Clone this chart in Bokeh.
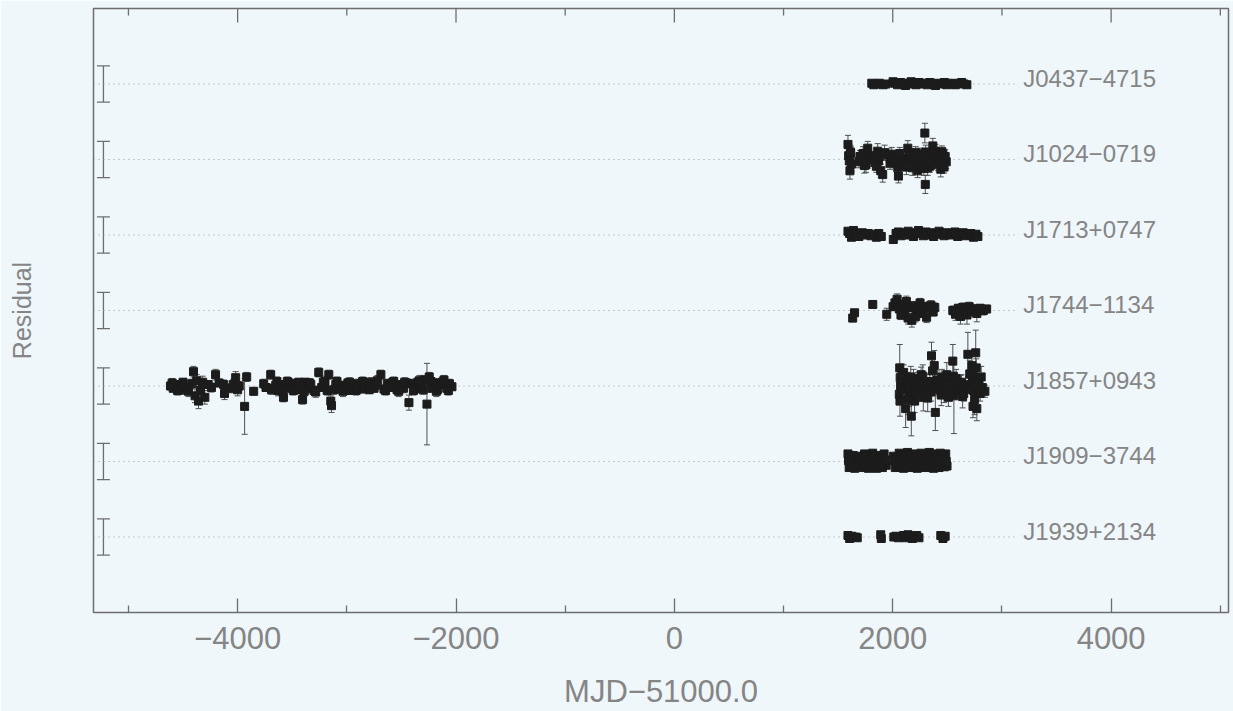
from bokeh.plotting import figure
from bokeh.models import ColumnDataSource, Range1d, FixedTicker, Whisker, TeeHead, LinearAxis
from bokeh.embed import file_html
from bokeh.resources import INLINE
from bokeh.core.properties import value

# ---------------- data ----------------
pulsars = ["J0437−4715", "J1024−0719", "J1713+0747", "J1744−1134",
           "J1857+0943", "J1909−3744", "J1939+2134"]
rows = [7, 6, 5, 4, 3, 2, 1]
scale_half = [0.24, 0.24, 0.24, 0.24, 0.24, 0.24, 0.24]

x_ticks = [-4000, -2000, 0, 2000, 4000]
x_minor = [-5000, -3000, -1000, 1000, 3000, 5000]
x_tick_labels = ["−4000", "−2000", "0", "2000", "4000"]

j0437_mjd = [1808, 1826, 1851, 1877, 1912, 1938, 2003, 2019, 2044, 2071, 2093, 2117,
             2142, 2168, 2187, 2213, 2240, 2258, 2287, 2316, 2339, 2368, 2391, 2414,
             2446, 2472, 2495, 2521, 2553, 2574, 2601, 2632, 2654, 2679]
j0437_res = [0.01, -0.01, 0.00, 0.01, -0.01, 0.00, 0.03, 0.01, -0.01, 0.02, 0.00, -0.02,
             0.01, 0.03, 0.00, -0.01, 0.02, 0.00, 0.01, -0.01, 0.02, 0.00, -0.02, 0.01,
             0.00, 0.02, -0.01, 0.01, 0.00, -0.01, 0.01, 0.02, 0.00, -0.01]
j0437_err = 0.012

j1024_mjd = [1590, 1596, 1602, 1608, 1615, 1624, 1700, 1728, 1740, 1771, 1800, 1838,
             1862, 1870, 1890, 1908, 1960, 1991, 2010, 2030, 2046, 2052, 2092, 2110,
             2138, 2160, 2174, 2180, 2200, 2220, 2228, 2248, 2270, 2294, 2298, 2302,
             2320, 2339, 2345, 2367, 2390, 2404, 2420, 2440, 2459, 2470, 2490,
             1612, 1690, 1715, 1755, 1785, 1820, 1850, 1880, 1925, 1975, 2000, 2065,
             2080, 2125, 2150, 2190, 2210, 2240, 2260, 2285, 2330, 2356, 2380, 2415,
             2430, 2450, 2480]
j1024_res = [0.20, 0.05, -0.02, -0.15, 0.08, -0.06, 0.04, 0.08, -0.08, 0.15, 0.02, -0.04,
             0.11, -0.02, -0.15, -0.20, 0.06, 0.07, -0.03, 0.03, -0.11, -0.22, 0.02, -0.06,
             0.15, 0.04, 0.01, -0.11, 0.06, -0.02, -0.15, 0.07, -0.05, 0.35, -0.33, 0.10,
             -0.11, -0.09, 0.00, 0.18, 0.11, -0.02, 0.05, -0.13, 0.07, -0.10, -0.03,
             0.10, -0.03, 0.02, -0.07, 0.05, 0.00, -0.09, 0.04, 0.09, -0.05, 0.01, 0.08,
             -0.04, -0.10, 0.06, -0.01, 0.09, -0.08, 0.03, -0.12, 0.05, -0.04, 0.08, -0.07,
             0.02, 0.10, 0.04]
j1024_err = [0.12, 0.09, 0.08, 0.11, 0.09, 0.10, 0.08, 0.09, 0.10, 0.09, 0.08, 0.09,
             0.10, 0.08, 0.09, 0.10, 0.08, 0.09, 0.08, 0.09, 0.10, 0.09, 0.08, 0.09,
             0.10, 0.08, 0.09, 0.10, 0.08, 0.09, 0.09, 0.08, 0.09, 0.13, 0.12, 0.09,
             0.10, 0.08, 0.09, 0.10, 0.09, 0.08, 0.09, 0.10, 0.09, 0.08, 0.09,
             0.09, 0.08, 0.09, 0.10, 0.08, 0.09, 0.08, 0.09, 0.10, 0.08, 0.09, 0.08,
             0.09, 0.10, 0.08, 0.09, 0.08, 0.09, 0.10, 0.09, 0.08, 0.09, 0.10, 0.08,
             0.09, 0.08, 0.09]

j1713_mjd = [1590, 1605, 1622, 1640, 1662, 1690, 1720, 1748, 1775, 1800, 1828, 1850,
             1872, 1895, 2005, 2030, 2052, 2075, 2098, 2120, 2141, 2165, 2190, 2212,
             2236, 2258, 2280, 2305, 2330, 2352, 2375, 2400, 2424, 2448, 2470, 2495,
             2520, 2546, 2570, 2595, 2620, 2645, 2668, 2690, 2715, 2740, 2762, 2780]
j1713_res = [0.05, 0.02, -0.03, 0.06, 0.01, -0.02, 0.03, 0.00, 0.02, -0.01, 0.01, -0.03,
             0.02, -0.02, -0.06, 0.02, 0.04, -0.01, 0.03, 0.00, 0.05, 0.01, -0.02, 0.03,
             0.06, 0.02, -0.01, 0.04, 0.00, 0.03, -0.02, 0.02, 0.05, 0.01, -0.01, 0.03,
             0.00, 0.02, 0.04, -0.02, 0.01, 0.03, -0.01, 0.00, 0.02, -0.03, 0.01, -0.02]
j1713_err = 0.03

j1744_mjd = [1633, 1650, 1817, 1945, 2003, 2020, 2040, 2060, 2075, 2090, 2110, 2125,
             2140, 2160, 2175, 2195, 2210, 2230, 2250, 2270, 2290, 2310, 2330, 2350,
             2370, 2385, 2550, 2575, 2600, 2620, 2640, 2660, 2680, 2700, 2720, 2745,
             2770, 2800, 2830, 2860]
j1744_res = [-0.10, -0.03, 0.08, -0.05, 0.05, 0.10, 0.15, 0.02, -0.06, 0.08, -0.02, 0.12,
             -0.10, 0.04, -0.13, 0.06, -0.08, 0.02, 0.10, -0.04, 0.05, -0.09, 0.03, 0.07,
             -0.02, 0.04, 0.00, -0.05, 0.03, -0.08, 0.04, 0.01, -0.06, 0.05, -0.02, 0.02,
             -0.04, 0.03, 0.00, 0.02]
j1744_err = [0.05, 0.04, 0.05, 0.08, 0.05, 0.06, 0.07, 0.05, 0.06, 0.05, 0.06, 0.07,
             0.08, 0.05, 0.09, 0.06, 0.07, 0.05, 0.06, 0.05, 0.06, 0.07, 0.05, 0.06,
             0.05, 0.06, 0.06, 0.08, 0.05, 0.10, 0.06, 0.05, 0.12, 0.06, 0.05, 0.06,
             0.11, 0.05, 0.06, 0.05]

j1857_mjd = [-4615, -4590, -4565, -4540, -4515, -4490, -4465, -4420, -4404, -4390, -4375, -4358,
             -4340, -4320, -4300, -4270, -4240, -4202, -4170, -4128, -4120, -4060, -4040, -4018,
             -4000, -3985, -3936, -3917, -3853, -3761, -3740, -3697, -3670, -3651, -3630, -3600,
             -3580, -3560, -3530, -3505, -3480, -3455, -3430, -3405, -3380, -3355, -3330, -3300,
             -3257, -3230, -3200, -3165, -3147, -3140, -3120, -3101, -3075, -3050, -3020, -2990,
             -2960, -2930, -2900, -2870, -2840, -2810, -2780, -2750, -2734, -2688, -2660, -2630,
             -2600, -2570, -2540, -2510, -2480, -2455, -2431, -2405, -2380, -2350, -2320, -2290,
             -2266, -2245, -2220, -2195, -2170, -2140, -2110, -2085, -2060, -2037,
             -4600, -4550, -4500, -4450, -3690, -3640, -3590, -3545, -3490, -3440, -3390, -3340,
             -3285, -3215, -3180, -3090, -3035, -2975, -2915, -2855, -2795, -2720, -2645, -2585,
             -2525, -2470, -2390, -2335, -2300, -2230, -2180, -2125, -2070,
             2060, 2064, 2066, 2068, 2072, 2100, 2110, 2118, 2125, 2135, 2145, 2150,
             2170, 2180, 2190, 2200, 2210, 2220, 2230, 2240, 2250, 2260, 2270, 2280,
             2290, 2300, 2310, 2330, 2340, 2350, 2355, 2380, 2390, 2400, 2410, 2420,
             2430, 2440, 2450, 2460, 2470, 2480, 2490, 2500, 2510, 2520, 2540, 2550,
             2555, 2560, 2590, 2600, 2620, 2630, 2650, 2660, 2688, 2700, 2710, 2725,
             2730, 2735, 2740, 2760, 2765, 2770, 2775, 2790, 2800, 2820, 2844,
             2085, 2140, 2165, 2215, 2275, 2320, 2365, 2445, 2495, 2580, 2640, 2705, 2750, 2810]
j1857_res = [0.00, -0.03, 0.02, -0.02, 0.01, -0.05, -0.02, 0.03, 0.19, -0.13, 0.07, -0.20,
             -0.06, 0.05, -0.15, 0.02, -0.02, 0.15, 0.04, 0.02, -0.10, -0.03, 0.02, 0.11,
             -0.05, 0.00, -0.27, 0.12, -0.07, 0.03, -0.02, 0.15, -0.03, 0.01, -0.06, 0.02,
             -0.15, -0.03, 0.04, -0.02, 0.03, -0.05, 0.00, -0.18, 0.05, -0.03, 0.02, -0.06,
             0.18, -0.02, 0.06, 0.15, -0.20, -0.26, -0.05, 0.02, -0.04, 0.01, -0.03, 0.04,
             -0.06, 0.00, 0.03, -0.04, 0.02, -0.02, 0.05, -0.03, 0.01, 0.15, -0.04, 0.03,
             -0.02, 0.06, -0.05, 0.02, -0.03, 0.04, -0.22, 0.03, -0.04, 0.05, -0.02, 0.08,
             -0.24, 0.12, -0.03, 0.04, -0.05, 0.02, 0.08, -0.03, 0.03, -0.01,
             0.04, -0.06, 0.05, -0.07, -0.05, 0.06, -0.07, 0.06, -0.06, 0.05, -0.07, 0.04,
             -0.08, 0.05, -0.06, 0.06, -0.07, 0.05, -0.06, 0.06, -0.05, 0.07, -0.06, 0.04,
             -0.07, 0.05, -0.06, 0.07, -0.05, 0.06, -0.07, 0.05, -0.06,
             -0.11, 0.24, -0.20, 0.11, 0.00, 0.18, -0.05, -0.30, 0.03, 0.08, -0.02, -0.12,
             -0.40, 0.06, 0.10, -0.20, -0.04, 0.02, 0.08, -0.08, -0.01, 0.15, 0.04, -0.15,
             -0.06, 0.05, 0.01, -0.02, 0.06, -0.08, 0.40, 0.27, -0.35, 0.02, 0.08, -0.03,
             -0.05, 0.05, 0.12, -0.02, -0.10, 0.07, 0.03, 0.00, -0.15, -0.06, 0.04, 0.33,
             0.13, -0.13, -0.05, -0.03, 0.02, 0.05, -0.10, -0.04, 0.42, 0.00, 0.02, 0.27,
             0.13, -0.27, -0.06, 0.44, 0.24, -0.30, 0.09, 0.05, -0.10, -0.02, -0.07,
             0.14, -0.18, 0.12, -0.10, 0.13, -0.16, 0.20, -0.12, 0.15, 0.10, -0.14, 0.16, -0.18, 0.12]
j1857_err = [0.05, 0.05, 0.05, 0.06, 0.05, 0.06, 0.05, 0.06, 0.07, 0.09, 0.08, 0.10,
             0.07, 0.08, 0.09, 0.05, 0.06, 0.07, 0.05, 0.06, 0.08, 0.06, 0.07, 0.08,
             0.08, 0.06, 0.37, 0.06, 0.05, 0.06, 0.05, 0.06, 0.05, 0.06, 0.07, 0.05,
             0.06, 0.05, 0.05, 0.05, 0.06, 0.05, 0.05, 0.06, 0.05, 0.06, 0.05, 0.06,
             0.06, 0.05, 0.07, 0.06, 0.07, 0.09, 0.06, 0.05, 0.05, 0.05, 0.06, 0.05,
             0.05, 0.05, 0.06, 0.05, 0.05, 0.05, 0.06, 0.05, 0.05, 0.06, 0.05, 0.06,
             0.05, 0.06, 0.05, 0.05, 0.06, 0.05, 0.10, 0.06, 0.05, 0.06, 0.05, 0.06,
             0.54, 0.06, 0.05, 0.06, 0.05, 0.05, 0.06, 0.05, 0.06, 0.05,
             0.06, 0.06, 0.05, 0.07, 0.06, 0.06, 0.07, 0.06, 0.06, 0.05, 0.07, 0.06,
             0.07, 0.06, 0.06, 0.06, 0.07, 0.06, 0.06, 0.06, 0.05, 0.07, 0.06, 0.06,
             0.07, 0.06, 0.06, 0.07, 0.06, 0.06, 0.07, 0.06, 0.06,
             0.10, 0.31, 0.20, 0.12, 0.10, 0.10, 0.12, 0.25, 0.10, 0.10, 0.10, 0.15,
             0.26, 0.10, 0.12, 0.15, 0.10, 0.10, 0.10, 0.12, 0.10, 0.10, 0.10, 0.18,
             0.10, 0.10, 0.10, 0.10, 0.10, 0.12, 0.18, 0.20, 0.24, 0.10, 0.12, 0.10,
             0.10, 0.10, 0.10, 0.10, 0.12, 0.10, 0.10, 0.10, 0.12, 0.10, 0.10, 0.22,
             0.15, 0.50, 0.10, 0.10, 0.12, 0.10, 0.10, 0.10, 0.29, 0.10, 0.10, 0.15,
             0.12, 0.15, 0.10, 0.30, 0.12, 0.16, 0.12, 0.10, 0.10, 0.10, 0.08,
             0.15, 0.20, 0.14, 0.12, 0.15, 0.18, 0.22, 0.14, 0.16, 0.12, 0.15, 0.18, 0.20, 0.14]

j1909_mjd = [1590, 1601, 1611, 1626, 1637, 1652, 1662, 1677, 1689, 1703, 1714, 1729,
             1741, 1751, 1766, 1777, 1791, 1802, 1816, 1827, 1841, 1852, 1867, 1879,
             1894, 1905, 1921, 1940, 2008, 2023, 2034, 2049, 2059, 2074, 2085, 2099,
             2109, 2124, 2135, 2149, 2159, 2174, 2185, 2199, 2209, 2224, 2235, 2249,
             2259, 2274, 2285, 2299, 2309, 2324, 2335, 2349, 2359, 2374, 2385, 2399,
             2409, 2424, 2435, 2449, 2459, 2474, 2485, 2497,
             1595, 1620, 1645, 1670, 1695, 1720, 1745, 1770, 1796, 1821, 1846, 1872,
             1899, 1930, 2015, 2040, 2066, 2092, 2117, 2142, 2167, 2192, 2217, 2242,
             2267, 2292, 2317, 2342, 2367, 2392, 2417, 2442, 2467, 2490]
j1909_res = [0.10, -0.08, 0.04, -0.05, 0.08, -0.09, 0.02, -0.06, 0.07, -0.03, 0.05, -0.08,
             0.10, -0.02, 0.06, -0.09, 0.09, -0.04, 0.11, -0.07, 0.03, -0.09, 0.08, -0.02,
             0.06, -0.08, 0.10, -0.05, 0.07, -0.08, 0.04, -0.06, 0.11, -0.03, 0.08, -0.09,
             0.05, -0.04, 0.12, -0.06, 0.09, -0.08, 0.03, -0.05, 0.10, -0.09, 0.06, -0.03,
             0.11, -0.07, 0.04, -0.08, 0.09, -0.05, 0.12, -0.06, 0.07, -0.09, 0.10, -0.04,
             0.06, -0.08, 0.11, -0.05, 0.08, -0.07, 0.10, -0.06,
             0.01, 0.00, 0.02, -0.01, 0.01, 0.00, 0.02, -0.01, 0.01, 0.03, 0.00, 0.01,
             -0.01, 0.02, 0.01, 0.00, 0.02, -0.01, 0.01, 0.03, 0.00, 0.02, -0.01, 0.01,
             0.02, 0.00, 0.01, 0.03, -0.01, 0.02, 0.00, 0.01, 0.02, 0.00]
j1909_err = 0.02

j1939_mjd = [1590, 1605, 1625, 1660, 1675, 1890, 1895, 2010, 2030, 2050, 2100, 2120,
             2140, 2160, 2180, 2200, 2220, 2240, 2440, 2460, 2480]
j1939_res = [0.02, -0.02, 0.01, 0.00, -0.01, 0.03, -0.02, 0.00, 0.01, -0.01, 0.02, -0.01,
             0.03, 0.00, -0.02, 0.01, 0.02, -0.01, 0.02, -0.02, 0.01]
j1939_err = 0.015

series = [
    (j0437_mjd, j0437_res, j0437_err),
    (j1024_mjd, j1024_res, j1024_err),
    (j1713_mjd, j1713_res, j1713_err),
    (j1744_mjd, j1744_res, j1744_err),
    (j1857_mjd, j1857_res, j1857_err),
    (j1909_mjd, j1909_res, j1909_err),
    (j1939_mjd, j1939_res, j1939_err),
]

# ---------------- style constants ----------------
BG = "#eff7fa"
FRAME = "#6e6e6e"
TXT = "#858585"
DOT = "#9a9a9a"
PT = "#1c1c1c"
BAR = "#505050"
FONT = "Liberation Sans"
X0, X1, Y0, Y1 = -5320, 5075, 0, 8
LINE_START, LINE_END = -5320, 3120
LABEL_X = 3195
SCALE_X = -5229
W, H = 1233, 711
BL, BR, BT, BB = 93, 5, 8, 99
ROW_PX = (H - BT - BB) / (Y1 - Y0)
MAJOR_LEN = 14 / ROW_PX
MINOR_LEN = 7 / ROW_PX

p = figure(width=W, height=H, output_backend="svg", toolbar_location=None,
           x_range=Range1d(X0, X1), y_range=Range1d(Y0, Y1), y_axis_location=None,
           min_border_left=BL, min_border_right=BR, min_border_top=BT, min_border_bottom=BB,
           background_fill_color=BG, border_fill_color=BG)
p.outline_line_color = FRAME
p.outline_line_width = 1.5
p.xgrid.visible = False
p.ygrid.visible = False

ticker = FixedTicker(ticks=x_ticks, minor_ticks=x_minor)
xa = p.xaxis[0]
xa.ticker = ticker
xa.major_label_overrides = {float(t): s for t, s in zip(x_ticks, x_tick_labels)}
xa.axis_line_color = None
xa.major_tick_in = 14
xa.major_tick_out = 0
xa.minor_tick_in = 7
xa.minor_tick_out = 0
xa.major_tick_line_color = FRAME
xa.minor_tick_line_color = FRAME
xa.major_tick_line_width = 1.3
xa.minor_tick_line_width = 1.3
xa.major_label_text_font = FONT
xa.major_label_text_font_size = "31px"
xa.major_label_text_color = TXT
xa.major_label_standoff = 14
xa.axis_label = "MJD−51000.0"
xa.axis_label_text_font = FONT
xa.axis_label_text_font_size = "31px"
xa.axis_label_text_font_style = "normal"
xa.axis_label_text_color = TXT
xa.axis_label_standoff = 22

# left axis: title only, no ticks
ya = LinearAxis(ticker=FixedTicker(ticks=[], minor_ticks=[]), axis_line_color=None,
                major_tick_out=0, minor_tick_out=0, major_tick_in=0, minor_tick_in=0,
                major_label_standoff=0,
                axis_label="Residual", axis_label_text_font=FONT,
                axis_label_text_font_size="25px", axis_label_text_font_style="normal",
                axis_label_text_color=TXT, axis_label_standoff=58)
p.add_layout(ya, "left")

# top ticks (inward), drawn from the same tick lists
p.segment(x0=x_ticks, x1=x_ticks, y0=[Y1] * len(x_ticks), y1=[Y1 - MAJOR_LEN] * len(x_ticks),
          line_color=FRAME, line_width=1.3)
p.segment(x0=x_minor, x1=x_minor, y0=[Y1] * len(x_minor), y1=[Y1 - MINOR_LEN] * len(x_minor),
          line_color=FRAME, line_width=1.3)

# dotted baselines
p.segment(x0=[LINE_START] * len(rows), x1=[LINE_END] * len(rows), y0=rows, y1=rows,
          line_color=DOT, line_dash="1 4", line_width=1.2)

# scale bars at left
sc_src = ColumnDataSource(dict(x=[SCALE_X] * len(rows),
                               lo=[r - h for r, h in zip(rows, scale_half)],
                               hi=[r + h for r, h in zip(rows, scale_half)]))
p.add_layout(Whisker(source=sc_src, base="x", lower="lo", upper="hi", dimension="height",
                     line_color=FRAME, line_width=1.3,
                     lower_head=TeeHead(size=13, line_color=FRAME, line_width=1.3),
                     upper_head=TeeHead(size=13, line_color=FRAME, line_width=1.3)))

# residual points
xs, ys, los, his = [], [], [], []
for row, (mjd, res, err) in zip(rows, series):
    errs = err if isinstance(err, list) else [err] * len(mjd)
    for m, r, e in zip(mjd, res, errs):
        xs.append(m)
        ys.append(row + r)
        los.append(row + r - e)
        his.append(row + r + e)
src = ColumnDataSource(dict(x=xs, y=ys, lo=los, hi=his))
p.add_layout(Whisker(source=src, base="x", lower="lo", upper="hi", dimension="height",
                     line_color=BAR, line_width=1,
                     lower_head=TeeHead(size=6, line_color=BAR, line_width=1),
                     upper_head=TeeHead(size=6, line_color=BAR, line_width=1)))
p.scatter("x", "y", source=src, marker="square", size=8, fill_color=PT, line_color=PT)

# pulsar names
p.text(x=[LABEL_X] * len(rows), y=rows, text=pulsars, text_font=value(FONT),
       text_font_size="24px", text_color=TXT, text_baseline="middle",
       text_align="left", y_offset=-6)

open("out.html", "w").write(file_html(p, INLINE))
